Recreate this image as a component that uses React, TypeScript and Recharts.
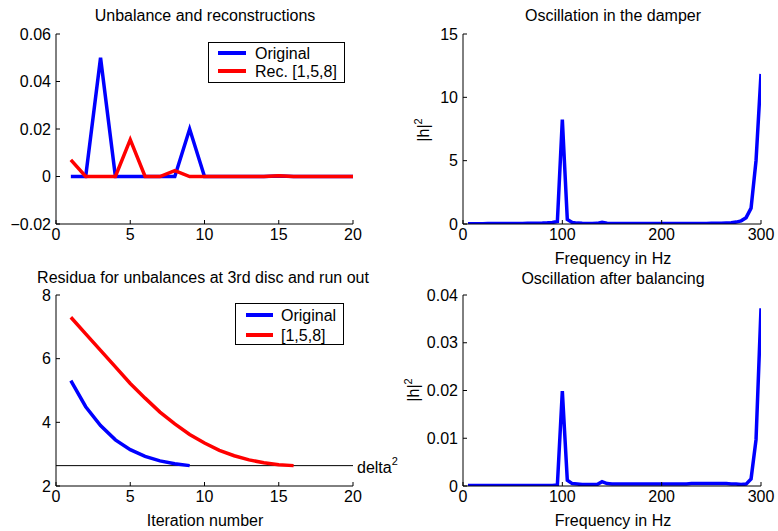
import { LineChart, Line, XAxis, YAxis, ReferenceLine, Legend } from 'recharts';

// Panel 1: unbalance vector vs reconstruction (disc index 1..20)
const DISC_IDX = [1, 2, 3, 4, 5, 6, 7, 8, 9, 10, 11, 12, 13, 14, 15, 16, 17, 18, 19, 20];
const UNB_ORIGINAL = [0, 0, 0.05, 0, 0, 0, 0, 0, 0.02, 0, 0, 0, 0, 0, 0.0002, 0, 0, 0, 0, 0];
const UNB_REC = [0.007, 0, 0, 0, 0.0155, 0, 0, 0.0025, 0, 0, 0, 0, 0, 0, 0.0003, 0, 0, 0, 0, 0];

// Panel 3: residua per iteration
const ITER = [1, 2, 3, 4, 5, 6, 7, 8, 9, 10, 11, 12, 13, 14, 15, 16];
const RES_ORIGINAL = [5.31, 4.49, 3.9, 3.45, 3.14, 2.93, 2.79, 2.7, 2.64];
const RES_REC = [7.3, 6.78, 6.26, 5.74, 5.22, 4.76, 4.32, 3.95, 3.62, 3.35, 3.12, 2.95, 2.82, 2.73, 2.67, 2.64];
const DELTA_SQ = 2.64;

// Panels 2 & 4: spectra |h|^2 over frequency
const FREQ = [
  5, 10, 15, 20, 25, 30, 35, 40, 45, 50, 55, 60, 65, 70, 75, 80, 85, 90, 95, 100,
  105, 110, 115, 120, 125, 130, 135, 140, 145, 150, 155, 160, 165, 170, 175, 180, 185, 190, 195, 200,
  205, 210, 215, 220, 225, 230, 235, 240, 245, 250, 255, 260, 265, 270, 275, 280, 285, 290, 295, 300,
];
const H_DAMPER = [
  0.02, 0.02, 0.02, 0.02, 0.03, 0.03, 0.03, 0.03, 0.03, 0.04, 0.04, 0.04, 0.05, 0.05, 0.06, 0.07, 0.09, 0.12, 0.2, 8.25,
  0.35, 0.12, 0.07, 0.05, 0.04, 0.04, 0.05, 0.14, 0.06, 0.04, 0.03, 0.03, 0.03, 0.03, 0.03, 0.03, 0.03, 0.03, 0.03, 0.03,
  0.03, 0.03, 0.03, 0.03, 0.03, 0.04, 0.04, 0.04, 0.04, 0.05, 0.05, 0.06, 0.08, 0.1, 0.15, 0.25, 0.5, 1.25, 5.0, 11.85,
];
const H_BALANCED = [
  0.0001, 0.0001, 0.0001, 0.0001, 0.0001, 0.0001, 0.0001, 0.0001, 0.0001, 0.0001, 0.0001, 0.0001, 0.0001, 0.0001, 0.0001, 0.0001, 0.0001, 0.0001, 0.0002, 0.0199,
  0.0012, 0.0005, 0.0004, 0.0003, 0.0003, 0.0003, 0.0003, 0.0009, 0.0005, 0.0004, 0.0004, 0.0004, 0.0004, 0.0004, 0.0004, 0.0004, 0.0004, 0.0004, 0.0004, 0.0004,
  0.0004, 0.0004, 0.0004, 0.0004, 0.0004, 0.0005, 0.0005, 0.0005, 0.0005, 0.0005, 0.0005, 0.0005, 0.0005, 0.0004, 0.0004, 0.0003, 0.0004, 0.0015, 0.0097, 0.0372,
];

const unbData = DISC_IDX.map((x, i) => ({ x, orig: UNB_ORIGINAL[i], rec: UNB_REC[i] }));
const resData = ITER.map((x, i) => ({ x, orig: RES_ORIGINAL[i], rec: RES_REC[i] }));
const damperData = FREQ.map((x, i) => ({ x, h: H_DAMPER[i] }));
const balancedData = FREQ.map((x, i) => ({ x, h: H_BALANCED[i] }));

const BLUE = '#0000ff';
const RED = '#ff0000';
const FONT = '"Liberation Sans", Arial, Helvetica, sans-serif';
const FS = 16;
const tickStyle = { fontSize: FS, fill: '#000' };
const LW = 3.5;

const fmt2 = (v: number) => (v === 0 ? '0' : v < 0 ? '\u2212' + Math.abs(v).toFixed(2) : v.toFixed(2));

// MATLAB-style box: inward ticks on all four sides
function boxAxes(xDomain: number[], xTicks: number[], yDomain: number[], yTicks: number[], yFmt: ((v: number) => string) | undefined, yWidth: number, xHeight: number) {
  return [
    <XAxis key="xb" dataKey="x" type="number" domain={xDomain} ticks={xTicks} height={xHeight}
      tickSize={-4} tickMargin={9} tick={tickStyle} stroke="#000" allowDataOverflow />,
    <XAxis key="xt" xAxisId="top" orientation="top" dataKey="x" type="number" domain={xDomain} ticks={xTicks}
      height={0} tickSize={-4} tick={false} stroke="#000" allowDataOverflow />,
    <YAxis key="yl" type="number" domain={yDomain} ticks={yTicks} width={yWidth} tickSize={-4} tickMargin={9}
      tick={tickStyle} tickFormatter={yFmt} stroke="#000" allowDataOverflow interval={0} />,
    <YAxis key="yr" yAxisId="right" orientation="right" type="number" domain={yDomain} ticks={yTicks} width={0}
      tickSize={-4} tick={false} stroke="#000" allowDataOverflow />,
  ];
}

function LegendBox({ items, width, height, textX, lineX1, lineX2, rows }: any) {
  return (
    <div style={{ position: 'relative', width, height, border: '1px solid #000', boxSizing: 'border-box', background: '#fff' }}>
      {items.map((it: any, i: number) => (
        <div key={it.name}>
          <div style={{ position: 'absolute', left: lineX1, width: lineX2 - lineX1, top: rows[i] - 2.75, height: LW, background: it.color }} />
          <div style={{ position: 'absolute', left: textX, top: rows[i] - 10, fontSize: FS, lineHeight: '19px', whiteSpace: 'nowrap' }}>{it.name}</div>
        </div>
      ))}
    </div>
  );
}

function Text({ x, y, children, rotate }: any) {
  return (
    <div style={{
      position: 'absolute', left: x, top: y, fontSize: FS, lineHeight: '19px', whiteSpace: 'nowrap',
      transform: `translate(-50%, -50%)${rotate ? ' rotate(-90deg)' : ''}`,
    }}>{children}</div>
  );
}

export default function App() {
  return (
    <div style={{ position: 'absolute', left: 0, top: 0, width: 778, height: 531, background: '#fff', fontFamily: FONT, color: '#000', overflow: 'hidden' }}>
      {/* top left */}
      <LineChart width={380} height={260} data={unbData} margin={{ top: 34, right: 27, bottom: 0, left: 0 }}
        style={{ position: 'absolute', left: 0, top: 0 }}>
        {boxAxes([0, 20], [0, 5, 10, 15, 20], [-0.02, 0.06], [-0.02, 0, 0.02, 0.04, 0.06], fmt2, 56, 36)}
        <Line dataKey="orig" name="Original" stroke={BLUE} strokeWidth={LW} dot={false} isAnimationActive={false} />
        <Line dataKey="rec" name="Rec. [1,5,8]" stroke={RED} strokeWidth={LW} dot={false} isAnimationActive={false} />
        <Legend layout="vertical" align="center" verticalAlign="middle"
          wrapperStyle={{ left: 208, top: 42, width: 137, height: 41 }}
          content={() => <LegendBox items={[{ name: 'Original', color: BLUE }, { name: 'Rec. [1,5,8]', color: RED }]}
            width={137} height={41} rows={[11, 29]} lineX1={9} lineX2={37} textX={46} />} />
      </LineChart>

      {/* top right */}
      <LineChart width={778 - 390} height={260} data={damperData} margin={{ top: 34, right: 17, bottom: 0, left: 0 }}
        style={{ position: 'absolute', left: 390, top: 0 }}>
        {boxAxes([0, 300], [0, 100, 200, 300], [0, 15], [0, 5, 10, 15], undefined, 73, 36)}
        <Line dataKey="h" stroke={BLUE} strokeWidth={LW} dot={false} isAnimationActive={false} />
      </LineChart>

      {/* bottom left (wider canvas so the delta^2 label outside the box is not clipped) */}
      <LineChart width={430} height={271} data={resData} margin={{ top: 35, right: 77, bottom: 0, left: 0 }}
        style={{ position: 'absolute', left: 0, top: 260 }}>
        {boxAxes([0, 20], [0, 5, 10, 15, 20], [2, 8], [2, 4, 6, 8], undefined, 56, 45)}
        <ReferenceLine y={DELTA_SQ} stroke="#000" strokeWidth={1} ifOverflow="visible"
          label={(p: any) => (
            <text x={p.viewBox.x + p.viewBox.width + 4} y={p.viewBox.y + 7} fontSize={FS} fill="#000">
              delta<tspan dy={-8} fontSize={11}>2</tspan>
            </text>
          )} />
        <Line dataKey="orig" name="Original" stroke={BLUE} strokeWidth={LW} dot={false} isAnimationActive={false} />
        <Line dataKey="rec" name="[1,5,8]" stroke={RED} strokeWidth={LW} dot={false} isAnimationActive={false} />
        <Legend layout="vertical" align="center" verticalAlign="middle"
          wrapperStyle={{ left: 235, top: 43, width: 109, height: 42 }}
          content={() => <LegendBox items={[{ name: 'Original', color: BLUE }, { name: '[1,5,8]', color: RED }]}
            width={109} height={42} rows={[12, 32]} lineX1={10} lineX2={37} textX={45} />} />
      </LineChart>

      {/* bottom right */}
      <LineChart width={778 - 390} height={271} data={balancedData} margin={{ top: 35, right: 17, bottom: 0, left: 0 }}
        style={{ position: 'absolute', left: 390, top: 260 }}>
        {boxAxes([0, 300], [0, 100, 200, 300], [0, 0.04], [0, 0.01, 0.02, 0.03, 0.04], fmt2, 73, 45)}
        <Line dataKey="h" stroke={BLUE} strokeWidth={LW} dot={false} isAnimationActive={false} />
      </LineChart>

      <Text x={205} y={15}>Unbalance and reconstructions</Text>
      <Text x={613} y={15}>Oscillation in the damper</Text>
      <Text x={203} y={277}>Residua for unbalances at 3rd disc and run out</Text>
      <Text x={613} y={278}>Oscillation after balancing</Text>
      <Text x={613} y={258}>Frequency in Hz</Text>
      <Text x={205} y={520}>Iteration number</Text>
      <Text x={613} y={520}>Frequency in Hz</Text>
      <Text x={421} y={130} rotate>|h|<sup style={{ fontSize: 11 }}>2</sup></Text>
      <Text x={411} y={390} rotate>|h|<sup style={{ fontSize: 11 }}>2</sup></Text>
    </div>
  );
}
